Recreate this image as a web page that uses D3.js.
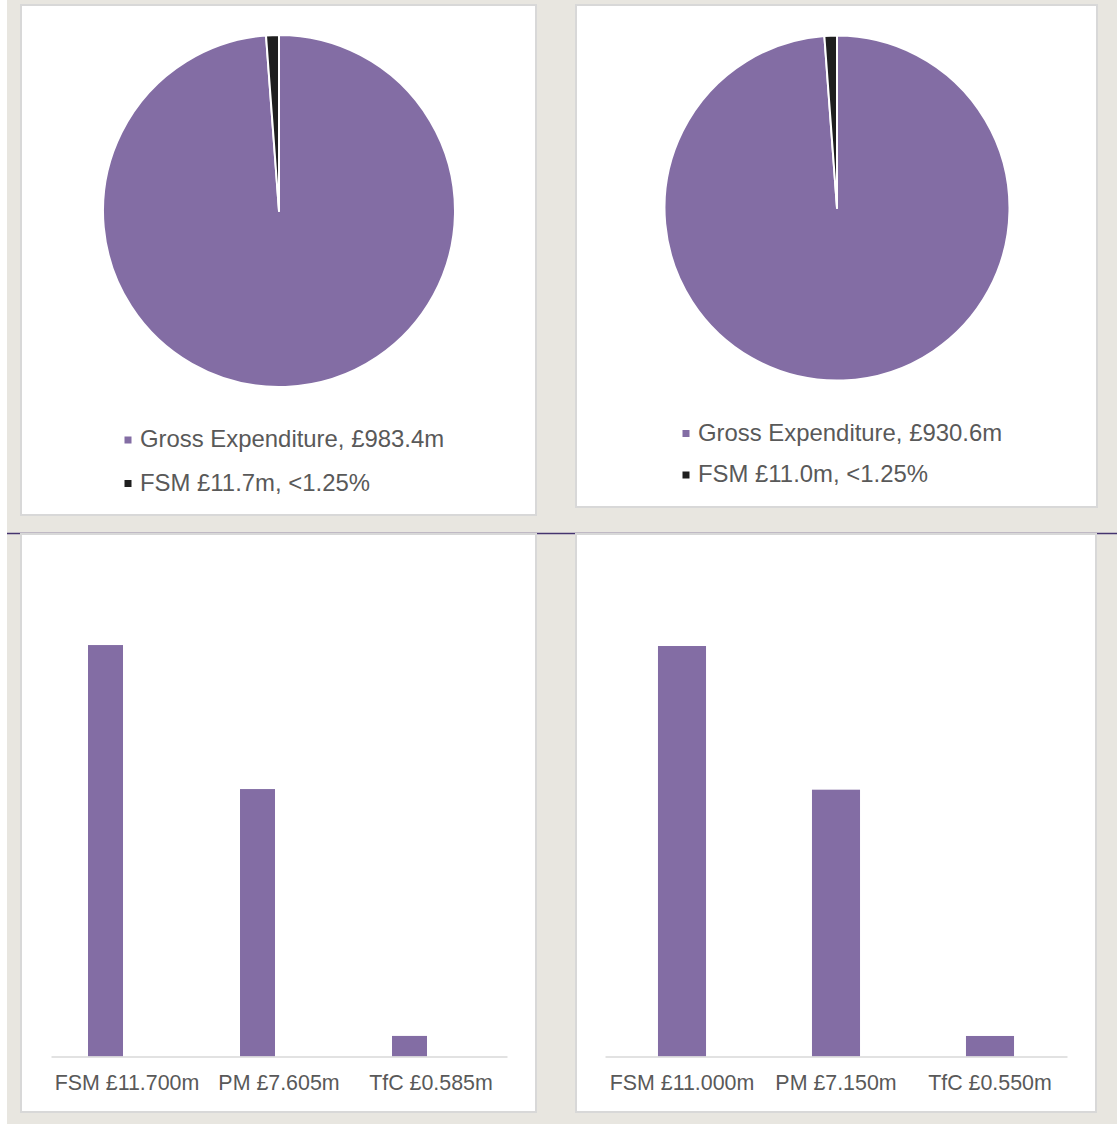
<!DOCTYPE html>
<html>
<head>
<meta charset="utf-8">
<script src="https://cdn.jsdelivr.net/npm/d3@7"></script>
<style>
  body { margin: 0; background: #fff; }
  svg  { display: block; font-family: "Liberation Sans", Arial, sans-serif; }
</style>
</head>
<body>
<svg id="viz" width="1117" height="1124"></svg>
<script>
/* FSM spend panels: two pies (share of gross expenditure) + two bar charts */

// -- data ----------------------------------------------------------------
const pieSeries      = ["Gross Expenditure", "FSM"];
const pieLeftValues  = [983.4, 11.7];
const pieRightValues = [930.6, 11.0];
const pieLeftLegend  = ["Gross Expenditure, £983.4m", "FSM £11.7m, <1.25%"];
const pieRightLegend = ["Gross Expenditure, £930.6m", "FSM £11.0m, <1.25%"];

const barCategories  = ["FSM", "PM", "TfC"];
const barLeftValues  = [11.7, 7.605, 0.585];
const barRightValues = [11.0, 7.15, 0.55];
const barYMax        = 12;
// left chart was built as a 2-series cluster with the 2nd series empty
const leftClusterSeries  = ["spend", "empty"];
const rightClusterSeries = ["spend"];

// -- look ----------------------------------------------------------------
const PURPLE = "#836da4", BLACK = "#1f1f1f", TEXT = "#595959";
const BG = "#e8e6e0", EDGE = "#d8d8d8", AXIS = "#d9d9d9";
const sliceColour = d3.scaleOrdinal().domain(pieSeries).range([PURPLE, BLACK]);

const svg = d3.select("#viz");

// page background + thin dark rule that peeks out between the panels
svg.append("rect").attr("x", 7).attr("y", 0).attr("width", 1110).attr("height", 1124).attr("fill", BG);
svg.append("line").attr("x1", 7).attr("x2", 1117).attr("y1", 533.5).attr("y2", 533.5)
   .attr("stroke", "#45346f").attr("stroke-width", 1.5);

const panels = [
  { x: 21,  y: 5,   w: 515, h: 510 },
  { x: 576, y: 5,   w: 521, h: 502 },
  { x: 21,  y: 534, w: 515, h: 578 },
  { x: 576, y: 534, w: 520, h: 578 }
];
svg.selectAll("rect.panel").data(panels).enter().append("rect")
   .attr("class", "panel")
   .attr("x", d => d.x).attr("y", d => d.y)
   .attr("width", d => d.w).attr("height", d => d.h)
   .attr("fill", "#fff").attr("stroke", EDGE).attr("stroke-width", 2);

// -- pies ----------------------------------------------------------------
function drawPie(values, legend, cx, cy, r, legendX, legendY, rowGap) {
  const g = svg.append("g").attr("transform", `translate(${cx},${cy})`);
  const pie = d3.pie().sort(null).value(d => d.v);
  const arc = d3.arc().innerRadius(0).outerRadius(r);
  const data = pieSeries.map((k, i) => ({ k, v: values[i] }));

  g.selectAll("path").data(pie(data)).enter().append("path")
    .attr("d", arc)
    .attr("fill", d => sliceColour(d.data.k))
    .attr("stroke", "#fff").attr("stroke-width", 2).attr("stroke-linejoin", "round");

  const lg = svg.append("g").attr("transform", `translate(${legendX},${legendY})`);
  const row = lg.selectAll("g").data(pieSeries).enter().append("g")
    .attr("transform", (d, i) => `translate(0,${i * rowGap})`);
  row.append("rect")
    .attr("x", -15.5).attr("y", -10.5).attr("width", 7).attr("height", 7)
    .attr("fill", d => sliceColour(d));
  row.append("text")
    .attr("fill", TEXT).attr("font-size", "23.9px")
    .text((d, i) => legend[i]);
}

drawPie(pieLeftValues,  pieLeftLegend,  279, 211, 176,   140, 447,   43.5);
drawPie(pieRightValues, pieRightLegend, 837, 208, 172.5, 698, 440.5, 41.5);

// -- bars ----------------------------------------------------------------
function drawBars(values, series, x0, x1, yBase, yTop, clusterPad, seriesPad) {
  const x = d3.scaleBand().domain(barCategories).range([x0, x1])
              .paddingInner(clusterPad).paddingOuter(clusterPad / 2);
  const xs = d3.scaleBand().domain(series).range([0, x.bandwidth()]).paddingInner(seriesPad);
  const y = d3.scaleLinear().domain([0, barYMax]).range([yBase, yTop]);
  const g = svg.append("g");

  g.selectAll("rect").data(values).enter().append("rect")
    .attr("x", (d, i) => x(barCategories[i]) + xs(series[0]))
    .attr("y", d => y(d))
    .attr("width", xs.bandwidth())
    .attr("height", d => y(0) - y(d))
    .attr("fill", PURPLE);

  const axis = g.append("g")
    .attr("transform", `translate(0,${y(0)})`)
    .call(d3.axisBottom(x).tickSize(0).tickPadding(18)
            .tickFormat((c, i) => `${c} £${values[i].toFixed(3)}m`));
  axis.select(".domain").attr("stroke", AXIS).attr("stroke-width", 1.5);
  axis.selectAll("text")
    .attr("fill", TEXT).attr("font-size", "21.4px")
    .attr("font-family", "\"Liberation Sans\", Arial, sans-serif");
}

drawBars(barLeftValues,  leftClusterSeries,  51,  507,  1056.5, 634.5, 0.487, 0.186);
drawBars(barRightValues, rightClusterSeries, 605, 1067, 1056.5, 608.7, 0.688, 0);
</script>
</body>
</html>
